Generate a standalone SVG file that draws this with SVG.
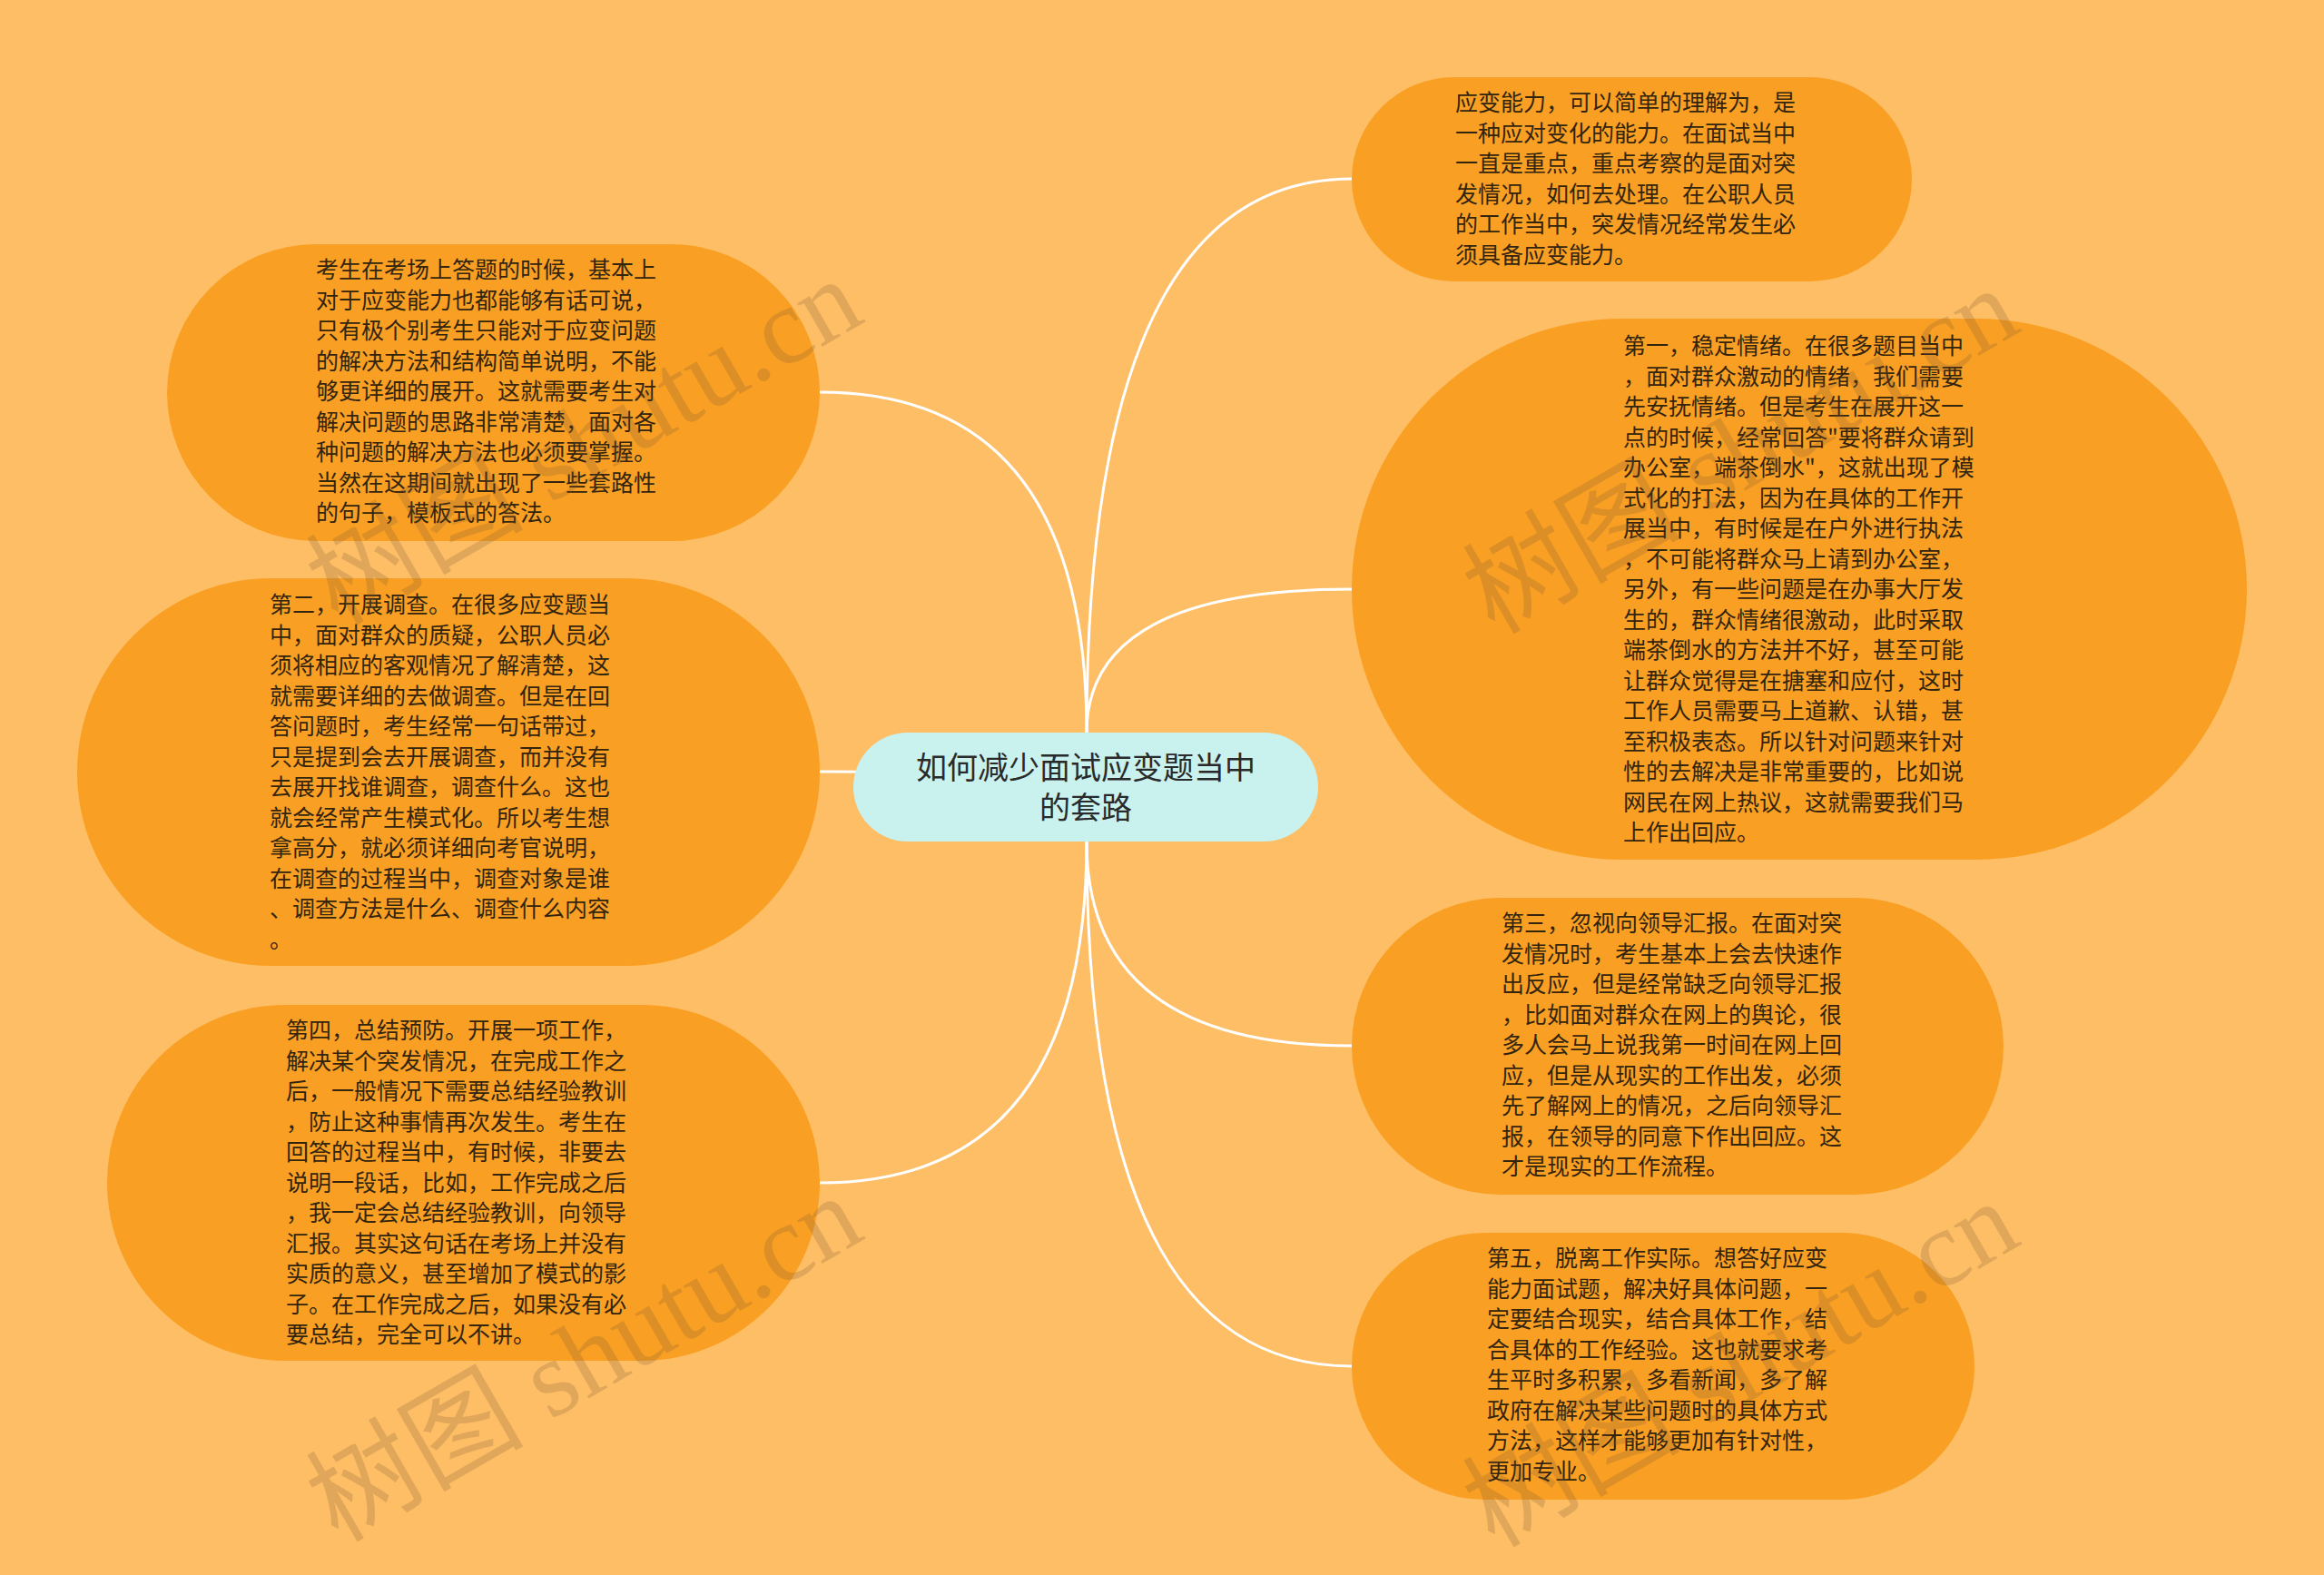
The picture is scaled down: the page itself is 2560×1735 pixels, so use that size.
<svg xmlns="http://www.w3.org/2000/svg" width="2560" height="1735" viewBox="0 0 2560 1735">
<style>
.bg{fill:#FEBE66}
.node{fill:#F9A024}
.center{fill:#C9F2EF}
.edge{fill:none;stroke:#FFFFFF;stroke-width:3}
.t{font-family:"Noto Sans CJK SC","Noto Sans",sans-serif;font-size:25px;fill:#33240e}
.ct{font-family:"Noto Sans CJK SC","Noto Sans",sans-serif;font-size:34px;fill:#2a2a2a;text-anchor:middle}
.wm{font-family:"Liberation Serif","Noto Sans CJK SC",serif;font-size:120px;fill:#7a5530;opacity:0.22}
</style>
<rect class="bg" x="0" y="0" width="2560" height="1735"/>
<g id="connectors">
<path class="edge" d="M1197,807 Q1197,197 1489,197"/>
<path class="edge" d="M1197,807 Q1197,649 1489,649"/>
<path class="edge" d="M1197,927 Q1197,1152 1489,1152"/>
<path class="edge" d="M1197,927 Q1197,1505 1489,1505"/>
<path class="edge" d="M1197,807 Q1197,432 903,432"/>
<path class="edge" d="M1197,867 Q1197,850 903,850"/>
<path class="edge" d="M1197,927 Q1197,1303 903,1303"/>
</g>
<g id="center">
<rect class="center" x="940" y="807" width="512" height="120" rx="60"/>
<text class="ct" x="1196" y="858">如何减少面试应变题当中</text>
<text class="ct" x="1196" y="902">的套路</text>
</g>
<g id="n1">
<rect class="node" x="1489" y="85" width="617" height="225" rx="112.5"/>
<text class="t" x="1603" y="122">应变能力，可以简单的理解为，是</text>
<text class="t" x="1603" y="155.5">一种应对变化的能力。在面试当中</text>
<text class="t" x="1603" y="189">一直是重点，重点考察的是面对突</text>
<text class="t" x="1603" y="222.5">发情况，如何去处理。在公职人员</text>
<text class="t" x="1603" y="256">的工作当中，突发情况经常发生必</text>
<text class="t" x="1603" y="289.5">须具备应变能力。</text>
</g>
<g id="n2">
<rect class="node" x="1489" y="351" width="986" height="596" rx="298"/>
<text class="t" x="1788" y="390">第一，稳定情绪。在很多题目当中</text>
<text class="t" x="1788" y="423.5">，面对群众激动的情绪，我们需要</text>
<text class="t" x="1788" y="457">先安抚情绪。但是考生在展开这一</text>
<text class="t" x="1788" y="490.5">点的时候，经常回答"要将群众请到</text>
<text class="t" x="1788" y="524">办公室，端茶倒水"，这就出现了模</text>
<text class="t" x="1788" y="557.5">式化的打法，因为在具体的工作开</text>
<text class="t" x="1788" y="591">展当中，有时候是在户外进行执法</text>
<text class="t" x="1788" y="624.5">，不可能将群众马上请到办公室，</text>
<text class="t" x="1788" y="658">另外，有一些问题是在办事大厅发</text>
<text class="t" x="1788" y="691.5">生的，群众情绪很激动，此时采取</text>
<text class="t" x="1788" y="725">端茶倒水的方法并不好，甚至可能</text>
<text class="t" x="1788" y="758.5">让群众觉得是在搪塞和应付，这时</text>
<text class="t" x="1788" y="792">工作人员需要马上道歉、认错，甚</text>
<text class="t" x="1788" y="825.5">至积极表态。所以针对问题来针对</text>
<text class="t" x="1788" y="859">性的去解决是非常重要的，比如说</text>
<text class="t" x="1788" y="892.5">网民在网上热议，这就需要我们马</text>
<text class="t" x="1788" y="926">上作出回应。</text>
</g>
<g id="n3">
<rect class="node" x="1489" y="989" width="718" height="327" rx="163.5"/>
<text class="t" x="1654" y="1026">第三，忽视向领导汇报。在面对突</text>
<text class="t" x="1654" y="1059.5">发情况时，考生基本上会去快速作</text>
<text class="t" x="1654" y="1093">出反应，但是经常缺乏向领导汇报</text>
<text class="t" x="1654" y="1126.5">，比如面对群众在网上的舆论，很</text>
<text class="t" x="1654" y="1160">多人会马上说我第一时间在网上回</text>
<text class="t" x="1654" y="1193.5">应，但是从现实的工作出发，必须</text>
<text class="t" x="1654" y="1227">先了解网上的情况，之后向领导汇</text>
<text class="t" x="1654" y="1260.5">报，在领导的同意下作出回应。这</text>
<text class="t" x="1654" y="1294">才是现实的工作流程。</text>
</g>
<g id="n4">
<rect class="node" x="1489" y="1358" width="686" height="294" rx="147"/>
<text class="t" x="1638" y="1395">第五，脱离工作实际。想答好应变</text>
<text class="t" x="1638" y="1428.5">能力面试题，解决好具体问题，一</text>
<text class="t" x="1638" y="1462">定要结合现实，结合具体工作，结</text>
<text class="t" x="1638" y="1495.5">合具体的工作经验。这也就要求考</text>
<text class="t" x="1638" y="1529">生平时多积累，多看新闻，多了解</text>
<text class="t" x="1638" y="1562.5">政府在解决某些问题时的具体方式</text>
<text class="t" x="1638" y="1596">方法，这样才能够更加有针对性，</text>
<text class="t" x="1638" y="1629.5">更加专业。</text>
</g>
<g id="n5">
<rect class="node" x="184" y="269" width="719" height="327" rx="163.5"/>
<text class="t" x="348" y="306">考生在考场上答题的时候，基本上</text>
<text class="t" x="348" y="339.5">对于应变能力也都能够有话可说，</text>
<text class="t" x="348" y="373">只有极个别考生只能对于应变问题</text>
<text class="t" x="348" y="406.5">的解决方法和结构简单说明，不能</text>
<text class="t" x="348" y="440">够更详细的展开。这就需要考生对</text>
<text class="t" x="348" y="473.5">解决问题的思路非常清楚，面对各</text>
<text class="t" x="348" y="507">种问题的解决方法也必须要掌握。</text>
<text class="t" x="348" y="540.5">当然在这期间就出现了一些套路性</text>
<text class="t" x="348" y="574">的句子，模板式的答法。</text>
</g>
<g id="n6">
<rect class="node" x="85" y="637" width="818" height="427" rx="213.5"/>
<text class="t" x="297" y="675">第二，开展调查。在很多应变题当</text>
<text class="t" x="297" y="708.5">中，面对群众的质疑，公职人员必</text>
<text class="t" x="297" y="742">须将相应的客观情况了解清楚，这</text>
<text class="t" x="297" y="775.5">就需要详细的去做调查。但是在回</text>
<text class="t" x="297" y="809">答问题时，考生经常一句话带过，</text>
<text class="t" x="297" y="842.5">只是提到会去开展调查，而并没有</text>
<text class="t" x="297" y="876">去展开找谁调查，调查什么。这也</text>
<text class="t" x="297" y="909.5">就会经常产生模式化。所以考生想</text>
<text class="t" x="297" y="943">拿高分，就必须详细向考官说明，</text>
<text class="t" x="297" y="976.5">在调查的过程当中，调查对象是谁</text>
<text class="t" x="297" y="1010">、调查方法是什么、调查什么内容</text>
<text class="t" x="297" y="1043.5">。</text>
</g>
<g id="n7">
<rect class="node" x="118" y="1107" width="785" height="392" rx="196"/>
<text class="t" x="315" y="1144">第四，总结预防。开展一项工作，</text>
<text class="t" x="315" y="1177.5">解决某个突发情况，在完成工作之</text>
<text class="t" x="315" y="1211">后，一般情况下需要总结经验教训</text>
<text class="t" x="315" y="1244.5">，防止这种事情再次发生。考生在</text>
<text class="t" x="315" y="1278">回答的过程当中，有时候，非要去</text>
<text class="t" x="315" y="1311.5">说明一段话，比如，工作完成之后</text>
<text class="t" x="315" y="1345">，我一定会总结经验教训，向领导</text>
<text class="t" x="315" y="1378.5">汇报。其实这句话在考场上并没有</text>
<text class="t" x="315" y="1412">实质的意义，甚至增加了模式的影</text>
<text class="t" x="315" y="1445.5">子。在工作完成之后，如果没有必</text>
<text class="t" x="315" y="1479">要总结，完全可以不讲。</text>
</g>
<g id="watermarks">
<text class="wm" transform="translate(372,690) rotate(-30)">树图 shutu.cn</text>
<text class="wm" transform="translate(1646,700) rotate(-30)">树图 shutu.cn</text>
<text class="wm" transform="translate(372,1700) rotate(-30)">树图 shutu.cn</text>
<text class="wm" transform="translate(1646,1706) rotate(-30)">树图 shutu.cn</text>
</g>
</svg>
